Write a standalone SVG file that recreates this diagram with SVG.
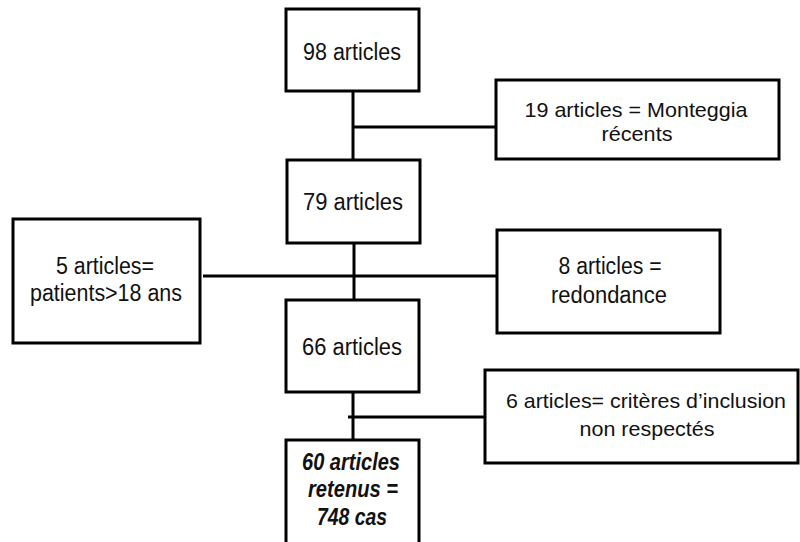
<svg xmlns="http://www.w3.org/2000/svg" width="800" height="542" viewBox="0 0 800 542">
<style>
.box{fill:#fff;stroke:#000;stroke-width:3}
.ln{stroke:#000;stroke-width:3;fill:none}
text{font-family:"Liberation Sans",Arial,sans-serif;font-size:23px;fill:#111;text-anchor:middle}
.sm{font-size:21px}
.bi{font-weight:bold;font-style:italic}
</style>
<rect width="800" height="542" fill="#fff"/>
<g id="connectors">
<line class="ln" x1="353" y1="91" x2="353" y2="160"/>
<line class="ln" x1="353" y1="127" x2="496" y2="127"/>
<line class="ln" x1="354" y1="243" x2="354" y2="300"/>
<line class="ln" x1="203" y1="276" x2="497" y2="276"/>
<line class="ln" x1="353" y1="392" x2="353" y2="440"/>
<line class="ln" x1="348" y1="417" x2="485" y2="417"/>
</g>
<g id="n98">
<rect class="box" x="286" y="9" width="133" height="82"/>
<text x="352" y="60" textLength="98" lengthAdjust="spacingAndGlyphs">98 articles</text>
</g>
<g id="n19">
<rect class="box" x="496" y="80" width="283" height="79"/>
<text class="sm" x="636" y="117" textLength="223" lengthAdjust="spacingAndGlyphs">19 articles = Monteggia</text>
<text class="sm" x="637" y="141" textLength="71" lengthAdjust="spacingAndGlyphs">récents</text>
</g>
<g id="n79">
<rect class="box" x="287" y="160" width="133" height="83"/>
<text x="353" y="210" textLength="100" lengthAdjust="spacingAndGlyphs">79 articles</text>
</g>
<g id="n5">
<rect class="box" x="13" y="219" width="187" height="124"/>
<text x="105" y="274" textLength="98" lengthAdjust="spacingAndGlyphs">5 articles=</text>
<text x="106" y="301" textLength="152" lengthAdjust="spacingAndGlyphs">patients&gt;18 ans</text>
</g>
<g id="n8">
<rect class="box" x="497" y="230" width="223" height="103"/>
<text x="610" y="274" textLength="103" lengthAdjust="spacingAndGlyphs">8 articles =</text>
<text x="609" y="303" textLength="116" lengthAdjust="spacingAndGlyphs">redondance</text>
</g>
<g id="n66">
<rect class="box" x="286" y="300" width="133" height="92"/>
<text x="352" y="355" textLength="100" lengthAdjust="spacingAndGlyphs">66 articles</text>
</g>
<g id="n6">
<rect class="box" x="485" y="370" width="313" height="93"/>
<text class="sm" x="646" y="408" textLength="280" lengthAdjust="spacingAndGlyphs">6 articles= critères d’inclusion</text>
<text class="sm" x="647" y="436" textLength="135" lengthAdjust="spacingAndGlyphs">non respectés</text>
</g>
<g id="n60">
<rect class="box" x="286" y="440" width="133" height="110"/>
<text class="bi" x="351" y="470" textLength="98" lengthAdjust="spacingAndGlyphs">60 articles</text>
<text class="bi" x="353" y="497" textLength="90" lengthAdjust="spacingAndGlyphs">retenus =</text>
<text class="bi" x="352" y="525" textLength="70" lengthAdjust="spacingAndGlyphs">748 cas</text>
</g>
</svg>
